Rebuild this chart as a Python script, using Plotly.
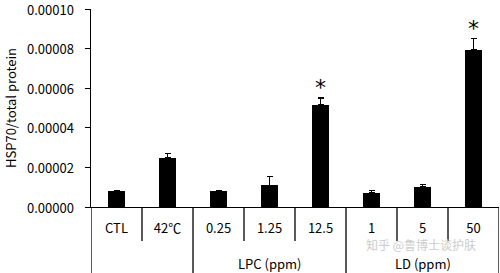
import plotly.graph_objects as go

categories = ["CTL", "42℃", "0.25", "1.25", "12.5", "1", "5", "50"]
values = [0.0000079, 0.0000249, 0.0000079, 0.0000110, 0.0000516, 0.0000073, 0.0000102, 0.0000794]
errors = [0.0000004, 0.0000022, 0.0000002, 0.0000045, 0.0000035, 0.0000011, 0.0000010, 0.0000057]
significant = [False, False, False, False, True, False, False, True]
groups = [("LPC (ppm)", 2, 4), ("LD (ppm)", 5, 7)]
y_ticks = [0, 0.00002, 0.00004, 0.00006, 0.00008, 0.0001]
y_ticktext = ["0.00000", "0.00002", "0.00004", "0.00006", "0.00008", "0.00010"]

FONT = "Noto Sans CJK KR, Noto Sans, sans-serif"
xpos = list(range(len(categories)))

T, B, H = 9, 66, 273
PH = H - T - B  # plot height in px


def py(px_below_axis):
    """paper y for a pixel distance below the x axis"""
    return -px_below_axis / PH


fig = go.Figure()
fig.add_trace(go.Bar(
    x=xpos, y=values, width=0.33,
    marker=dict(color="black", line=dict(width=0)),
    error_y=dict(type="data", array=errors, arrayminus=[0]*len(errors), symmetric=False,
                 color="black", thickness=1.2, width=3),
    showlegend=False,
))

# category separators
long_bounds = {-0.5, 1.5, 4.5, 7.5}
shapes = []
for i in range(1, len(categories) + 1):
    b = i - 0.5
    y1 = py(66) if b in long_bounds else py(34)
    shapes.append(dict(type="line", xref="x", yref="paper", x0=b, x1=b, y0=0, y1=y1,
                       line=dict(color="black", width=1.3)))
shapes.append(dict(type="line", xref="x", yref="paper", x0=-0.5, x1=-0.5, y0=0, y1=py(66),
                   line=dict(color="black", width=1.3)))

annotations = []
# y tick labels
for v, t in zip(y_ticks, y_ticktext):
    annotations.append(dict(x=0, y=v, xref="paper", yref="y", text=t, showarrow=False,
                            xanchor="right", yanchor="middle", xshift=-15,
                            font=dict(size=13, color="black", family=FONT)))
# y title
annotations.append(dict(x=-81 / 408, y=0.5, xref="paper", yref="paper", text="HSP70/total protein",
                        textangle=-90, showarrow=False, xanchor="center", yanchor="middle",
                        font=dict(size=13, color="black", family=FONT)))
for i, (v, e, s) in enumerate(zip(values, errors, significant)):
    if s:
        annotations.append(dict(x=i, y=v + e, xref="x", yref="y", text="*", showarrow=False,
                                xanchor="center", yanchor="middle", yshift=10,
                                font=dict(size=22, color="black", family="DejaVu Sans")))
for name, a, b in groups:
    annotations.append(dict(x=(a + b) / 2, y=py(56.5), xref="x", yref="paper", text=name,
                            showarrow=False, xanchor="center", yanchor="middle",
                            font=dict(size=13, color="black", family=FONT)))
annotations.append(dict(x=0.809, y=py(37.5), xref="paper", yref="paper", text="知乎 @鲁博士谈护肤",
                        showarrow=False, xanchor="center", yanchor="middle",
                        font=dict(size=12, color="#cccccc", family="Noto Sans CJK SC")))

fig.update_layout(
    width=500, height=273,
    margin=dict(l=91, r=1, t=T, b=B, autoexpand=False),
    plot_bgcolor="white", paper_bgcolor="white",
    font=dict(family=FONT, size=13, color="black"),
    bargap=0,
    shapes=shapes,
    annotations=annotations,
    xaxis=dict(range=[-0.5, 7.5], tickvals=xpos, ticktext=categories, ticks="",
               showline=True, linecolor="black", linewidth=1.3, showgrid=False, zeroline=False,
               ticklabelstandoff=9, tickfont=dict(size=13), fixedrange=True, automargin=False),
    yaxis=dict(range=[0, 0.0001], tickvals=y_ticks, ticks="outside", showticklabels=False,
               ticklen=5, tickwidth=1.3, tickcolor="black",
               showline=True, linecolor="black", linewidth=1.3, showgrid=False, zeroline=False,
               automargin=False, fixedrange=True),
)

fig.write_html("out.html")
